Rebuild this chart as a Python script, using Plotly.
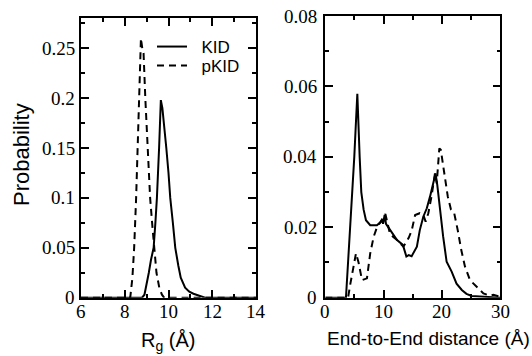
import plotly.graph_objects as go

# ---- Data: radius of gyration distribution ----
rg_kid_x = [6.0, 8.6, 8.79, 8.9, 8.98, 9.1, 9.2, 9.32, 9.4, 9.47, 9.57, 9.65, 9.72, 9.8, 9.9,
            10.0, 10.08, 10.2, 10.31, 10.45, 10.56, 10.76, 10.95, 11.14, 11.44, 11.67, 14.0]
rg_kid_y = [0, 0, 0, 0.003, 0.011, 0.025, 0.038, 0.05, 0.075, 0.1, 0.15, 0.198, 0.19, 0.175, 0.15,
            0.125, 0.1, 0.075, 0.05, 0.032, 0.02, 0.01, 0.006, 0.004, 0.002, 0.0, 0]

rg_pkid_x = [6.0, 8.25, 8.35, 8.43, 8.52, 8.59, 8.66, 8.72, 8.74, 8.8, 8.86, 8.94, 9.04, 9.16,
             9.27, 9.35, 9.45, 9.58, 9.7, 9.8, 14.0]
rg_pkid_y = [0, 0, 0.02, 0.05, 0.1, 0.15, 0.2, 0.25, 0.26, 0.25, 0.245, 0.2, 0.15, 0.1,
             0.07, 0.05, 0.025, 0.01, 0.003, 0, 0]

# ---- Data: end-to-end distance distribution ----
ee_kid_x = [0, 3.54, 3.9, 4.29, 4.6, 4.97, 5.2, 5.49, 5.89, 6.17, 6.57, 6.97, 7.7, 8.86, 9.43,
            9.7, 9.9, 10.17, 10.4, 10.86, 11.43, 12.3, 13.3, 13.9, 14.3, 14.8, 15.7, 16.2,
            16.8, 17.4, 17.95, 18.5, 18.9, 19.2, 19.66, 20.2, 20.8, 21.66, 22.5, 23.4, 24.2,
            25.1, 30]
ee_kid_y = [0, 0, 0.01, 0.02, 0.03, 0.04, 0.048, 0.0579, 0.04, 0.03, 0.025, 0.022, 0.0206,
            0.0206, 0.0214, 0.022, 0.021, 0.0235, 0.021, 0.0199, 0.0182, 0.0164, 0.015, 0.0117,
            0.0121, 0.0118, 0.0145, 0.0192, 0.023, 0.0254, 0.0287, 0.0325, 0.0353, 0.032,
            0.025, 0.0174, 0.0102, 0.0074, 0.004, 0.0022, 0.0011, 0.0005, 0]

ee_pkid_x = [0, 3.9, 4.3, 4.8, 5.26, 5.7, 6.29, 7.14, 7.7, 8.29, 8.86, 9.43, 10.3, 11.1, 12.3,
             13.4, 14.3, 14.8, 15.4, 16.2, 16.8, 17.2, 17.66, 18.2, 18.8, 19.1, 19.55, 19.8,
             20.4, 21.0, 21.55, 22.1, 22.7, 23.3, 23.95, 24.8, 25.95, 27.1, 28.2, 28.8, 30]
ee_pkid_y = [0, 0, 0.004, 0.009, 0.0126, 0.01, 0.005, 0.0055, 0.0126, 0.0173, 0.02, 0.0214,
             0.0238, 0.018, 0.0164, 0.0145, 0.017, 0.019, 0.0235, 0.024, 0.0235, 0.0216, 0.024,
             0.0287, 0.0353, 0.0325, 0.0424, 0.042, 0.036, 0.0287, 0.025, 0.024, 0.0192,
             0.0136, 0.0088, 0.005, 0.0031, 0.0012, 0.0006, 0.0008, 0.0003]

# ---- Tick labels ----
rg_xticks = [6, 8, 10, 12, 14]
rg_xtext = ["6", "8", "10", "12", "14"]
rg_yticks = [0, 0.05, 0.1, 0.15, 0.2, 0.25]
rg_ytext = ["0", "0.05", "0.1", "0.15", "0.2", "0.25"]
ee_xticks = [0, 10, 20, 30]
ee_xtext = ["0", "10", "20", "30"]
ee_yticks = [0, 0.02, 0.04, 0.06, 0.08]
ee_ytext = ["0", "0.02", "0.04", "0.06", "0.08"]

series_names = ["KID", "pKID"]

SERIF = "Liberation Serif"
SANS = "Liberation Sans"
TICK_FONT = dict(family=SERIF, size=19, color="black")
PAD = "\u00a0\u00a0"  # small gap between legend sample and its label

fig = go.Figure()
fig.add_trace(go.Scatter(x=rg_kid_x, y=rg_kid_y, mode="lines", name=PAD + series_names[0],
                         line=dict(color="black", width=2), xaxis="x", yaxis="y",
                         legend="legend"))
fig.add_trace(go.Scatter(x=rg_pkid_x, y=rg_pkid_y, mode="lines", name=PAD + series_names[1],
                         line=dict(color="black", width=2, dash="7px,5px"), xaxis="x", yaxis="y",
                         legend="legend2"))
fig.add_trace(go.Scatter(x=ee_kid_x, y=ee_kid_y, mode="lines", showlegend=False,
                         line=dict(color="black", width=2), xaxis="x2", yaxis="y2"))
fig.add_trace(go.Scatter(x=ee_pkid_x, y=ee_pkid_y, mode="lines", showlegend=False,
                         line=dict(color="black", width=2, dash="7px,5px"), xaxis="x2", yaxis="y2"))

axis_common = dict(showline=True, linecolor="black", linewidth=1.5, mirror="allticks",
                   ticks="inside", ticklen=8, tickwidth=1.5, tickcolor="black",
                   showgrid=False, zeroline=False, showticklabels=False, automargin=False)
minor_common = dict(ticks="inside", ticklen=4, tickwidth=1.5, tickcolor="black")

legend_common = dict(xanchor="left", yanchor="middle", bgcolor="rgba(0,0,0,0)",
                     font=dict(family=SANS, size=17, color="black"), itemwidth=30,
                     borderwidth=0)

# tick labels drawn as annotations placed through the axes' own scales
tick_annotations = []
for xv, xt in zip(rg_xticks, rg_xtext):
    tick_annotations.append(dict(text=xt, x=xv, xref="x", y=0, yref="y domain",
                                 xanchor="center", yanchor="top", yshift=-1,
                                 showarrow=False, font=TICK_FONT))
for yv, yt in zip(rg_yticks, rg_ytext):
    tick_annotations.append(dict(text=yt, x=0, xref="x domain", y=yv, yref="y",
                                 xanchor="right", yanchor="middle", xshift=-4,
                                 showarrow=False, font=TICK_FONT))
for xv, xt in zip(ee_xticks, ee_xtext):
    tick_annotations.append(dict(text=xt, x=xv, xref="x2", y=0, yref="y2 domain",
                                 xanchor="center", yanchor="top", yshift=-1,
                                 showarrow=False, font=TICK_FONT))
for yv, yt in zip(ee_yticks, ee_ytext):
    tick_annotations.append(dict(text=yt, x=0, xref="x2 domain", y=yv, yref="y2",
                                 xanchor="right", yanchor="middle", xshift=-6,
                                 showarrow=False, font=TICK_FONT))

title_annotations = [
    dict(text="Probability", x=21 / 532, y=1 - 155 / 356, xref="paper", yref="paper",
         textangle=-90, showarrow=False, xanchor="center", yanchor="middle",
         font=dict(family=SANS, size=22, color="black")),
    dict(text="R<sub>g</sub> (Å)", x=168 / 532, y=1 - 341 / 356, xref="paper", yref="paper",
         showarrow=False, xanchor="center", yanchor="middle",
         font=dict(family=SANS, size=20, color="black")),
    dict(text="End-to-End distance (Å)", x=428 / 532, y=1 - 338 / 356, xref="paper", yref="paper",
         showarrow=False, xanchor="center", yanchor="middle",
         font=dict(family=SANS, size=19, color="black")),
]

fig.update_layout(
    width=532, height=356,
    margin=dict(l=0, r=0, t=0, b=0, autoexpand=False),
    paper_bgcolor="white", plot_bgcolor="white",
    showlegend=True,
    legend=dict(x=152 / 532, y=1 - 47 / 356, **legend_common),
    legend2=dict(x=152 / 532, y=1 - 66 / 356, **legend_common),
    xaxis=dict(domain=[81 / 532, 256 / 532], range=[6, 14], tickvals=rg_xticks,
               minor=dict(dtick=1, tick0=6, **minor_common),
               anchor="y", **axis_common),
    yaxis=dict(domain=[(356 - 297.7) / 356, (356 - 18.3) / 356], range=[0, 0.28],
               tickvals=rg_yticks,
               minor=dict(dtick=0.025, tick0=0, **minor_common),
               anchor="x", **axis_common),
    xaxis2=dict(domain=[325.3 / 532, 500.3 / 532], range=[0, 30], tickvals=ee_xticks,
                minor=dict(dtick=5, tick0=0, **minor_common),
                anchor="y2", **axis_common),
    yaxis2=dict(domain=[(356 - 297.7) / 356, (356 - 16) / 356], range=[0, 0.08],
                tickvals=ee_yticks,
                minor=dict(dtick=0.01, tick0=0, **minor_common),
                anchor="x2", **axis_common),
    annotations=tick_annotations + title_annotations,
)

fig.write_html("out.html")
